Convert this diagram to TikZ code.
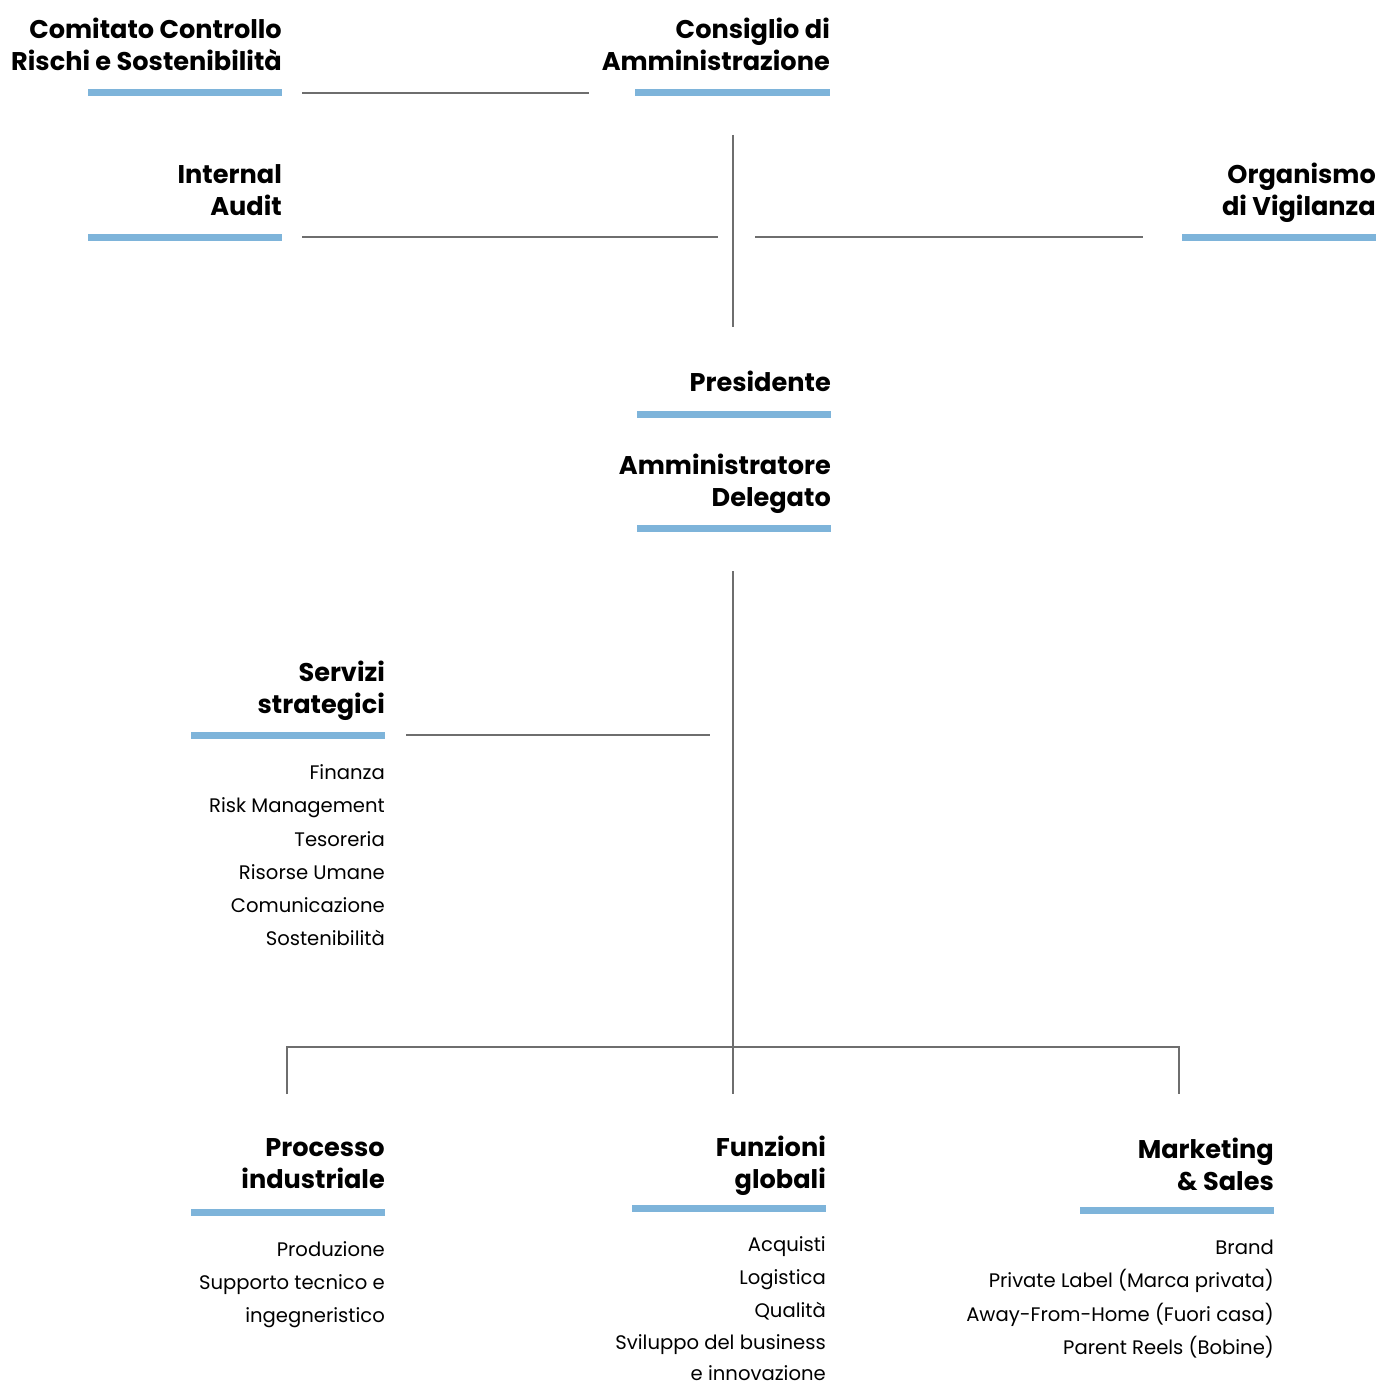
\documentclass[tikz,border=0pt]{standalone}
\usepackage{fontspec}
\setmainfont{Poppins}
\definecolor{barblue}{HTML}{7EB4DA}
\definecolor{linegray}{HTML}{6E6E6E}
\begin{document}
\begin{tikzpicture}[x=1pt,y=-1pt,
  head/.style={anchor=base east,inner sep=0pt,font=\fontsize{25.6}{30}\selectfont\bfseries},
  item/.style={anchor=base east,inner sep=0pt,font=\fontsize{19.6}{24}\selectfont},
  bar/.style={draw=barblue,line width=7pt},
  conn/.style={draw=linegray,line width=1.3pt}]
\useasboundingbox[fill=white] (0,0) rectangle (1382,1386);

% headings
\node[head] (ccr1) at (282,39) {Comitato Controllo};
\node[head] (ccr2) at (282,71) {Rischi e Sostenibilità};
\node[head] (cda1) at (830,39) {Consiglio di};
\node[head] (cda2) at (830,71) {Amministrazione};
\node[head] (ia1) at (282,183) {Internal};
\node[head] (ia2) at (282,215) {Audit};
\node[head] (odv1) at (1376,183) {Organismo};
\node[head] (odv2) at (1376,215) {di Vigilanza};
\node[head] (pres) at (831,391) {Presidente};
\node[head] (ad1) at (831,474) {Amministratore};
\node[head] (ad2) at (831,506) {Delegato};
\node[head] (ss1) at (385,681) {Servizi};
\node[head] (ss2) at (385,713) {strategici};
\node[head] (pi1) at (385,1156) {Processo};
\node[head] (pi2) at (385,1188) {industriale};
\node[head] (fg1) at (826,1156) {Funzioni};
\node[head] (fg2) at (826,1188) {globali};
\node[head] (ms1) at (1274,1158) {Marketing};
\node[head] (ms2) at (1274,1190) {\& Sales};

% bars
\draw[bar] (88,93) -- (282,93);
\draw[bar] (635,93) -- (830,93);
\draw[bar] (88,237) -- (282,237);
\draw[bar] (1182,237) -- (1376,237);
\draw[bar] (637,414) -- (831,414);
\draw[bar] (637,528) -- (831,528);
\draw[bar] (191,735) -- (385,735);
\draw[bar] (191,1212) -- (385,1212);
\draw[bar] (632,1208) -- (826,1208);
\draw[bar] (1080,1210) -- (1274,1210);

% items
\node[item] (s1) at (385,779) {Finanza};
\node[item] (s2) at (385,812) {Risk Management};
\node[item] (s3) at (385,846) {Tesoreria};
\node[item] (s4) at (385,879) {Risorse Umane};
\node[item] (s5) at (385,912) {Comunicazione};
\node[item] (s6) at (385,945) {Sostenibilità};
\node[item] (p1) at (385,1256) {Produzione};
\node[item] (p2) at (385,1289) {Supporto tecnico e};
\node[item] (p3) at (385,1322) {ingegneristico};
\node[item] (f1) at (826,1251) {Acquisti};
\node[item] (f2) at (826,1284) {Logistica};
\node[item] (f3) at (826,1317) {Qualità};
\node[item] (f4) at (826,1349) {Sviluppo del business};
\node[item] (f5) at (826,1380) {e innovazione};
\node[item] (m1) at (1274,1254) {Brand};
\node[item] (m2) at (1274,1287) {Private Label (Marca privata)};
\node[item] (m3) at (1274,1321) {Away-From-Home (Fuori casa)};
\node[item] (m4) at (1274,1354) {Parent Reels (Bobine)};

% connector coordinates
\coordinate (c1a) at (302,93);  \coordinate (c1b) at (589,93);
\coordinate (v1a) at (733,135); \coordinate (v1b) at (733,327);
\coordinate (c2a) at (302,237); \coordinate (c2b) at (718,237);
\coordinate (c3a) at (755,237); \coordinate (c3b) at (1143,237);
\coordinate (v2a) at (733,571); \coordinate (v2b) at (733,1094);
\coordinate (c4a) at (406,735); \coordinate (c4b) at (710,735);
\coordinate (hL) at (287,1047); \coordinate (hR) at (1179,1047);
\coordinate (hLb) at (287,1094); \coordinate (hRb) at (1179,1094);

\draw[conn] (c1a) -- (c1b);
\draw[conn] (v1a) -- (v1b);
\draw[conn] (c2a) -- (c2b);
\draw[conn] (c3a) -- (c3b);
\draw[conn] (v2a) -- (v2b);
\draw[conn] (c4a) -- (c4b);
\draw[conn] (hLb) -- (hL) -- (hR) -- (hRb);
\end{tikzpicture}
\end{document}
